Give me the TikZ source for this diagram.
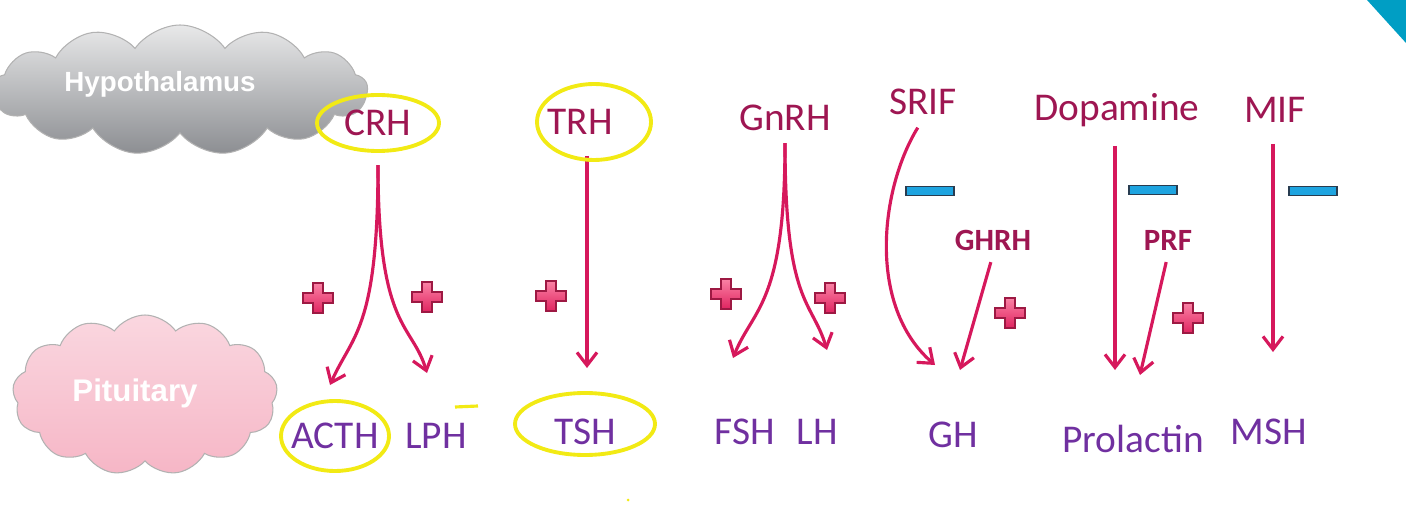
\documentclass[tikz,border=0pt]{standalone}
\usepackage{fontspec}
\setmainfont{Carlito}
\newfontfamily\cloudfont{Liberation Sans}
\usepackage{xcolor}
\usepackage{tikz}
\usetikzlibrary{
  arrows.meta,
  shapes.symbols
}
\definecolor{arrowred}{RGB}{214,24,92}
\definecolor{hormred}{RGB}{158,22,82}
\definecolor{hormpurple}{RGB}{112,48,160}
\definecolor{barblue}{RGB}{30,164,224}
\definecolor{barline}{RGB}{40,60,80}
\definecolor{markyellow}{RGB}{242,234,20}
\definecolor{plusred}{RGB}{224,36,96}
\definecolor{pluslight}{RGB}{250,130,165}
\definecolor{cornerteal}{RGB}{0,158,196}
\definecolor{cloudgray}{RGB}{140,142,146}
\definecolor{cloudpink}{RGB}{246,182,198}

\begin{document}
\begin{tikzpicture}[
  topl/.style    ={inner sep=1pt,text=hormred,font=\fontsize{11.2}{13}\selectfont},
  botl/.style    ={inner sep=1pt,text=hormpurple,font=\fontsize{11.2}{13}\selectfont},
  sublbl/.style  ={inner sep=1pt,text=hormred,font=\fontsize{8.8}{10}\selectfont\bfseries},
  cloudbox/.style={cloud,cloud puffs=13,cloud puff arc=110,aspect=2.6,
                   draw=white!70!black,line width=0.3pt},
  cloudtext/.style={text=white,font=\cloudfont\bfseries},
  arr/.style     ={-{Straight Barb[length=1.3mm,width=2mm]},line width=0.9pt,draw=arrowred},
  minusbar/.style={draw=barline,fill=barblue,line width=0.4pt,inner sep=0pt,
                   minimum width=0.48cm,minimum height=0.085cm},
  hl/.style      ={draw=markyellow,line width=1.1pt},
  plusmark/.pic  ={
    \draw[draw=plusred!70!black,line width=0.4pt,top color=pluslight,bottom color=plusred]
      (-0.05,0.15) -- (0.05,0.15) -- (0.05,0.05) -- (0.15,0.05) -- (0.15,-0.05)
      -- (0.05,-0.05) -- (0.05,-0.15) -- (-0.05,-0.15) -- (-0.05,-0.05)
      -- (-0.15,-0.05) -- (-0.15,0.05) -- (-0.05,0.05) -- cycle;
  },
]
\useasboundingbox (0,0) rectangle (14.06,5.05);
\fill[cornerteal] (13.67,5.05) -- (14.06,5.05) -- (14.06,4.62) -- cycle;

% clouds
\node[cloudbox,top color=white!80!cloudgray,bottom color=cloudgray,
      minimum width=3.75cm,minimum height=1.3cm] (hypocloud) at (1.80,4.15) {};
\node[cloudtext,font=\cloudfont\bfseries\fontsize{7.9}{9}\selectfont] (hypo) at (1.60,4.21) {Hypothalamus};
\node[cloudbox,top color=cloudpink!55!white,bottom color=cloudpink,
      minimum width=2.65cm,minimum height=1.6cm] (pitcloud) at (1.45,1.10) {};
\node[cloudtext,font=\cloudfont\bfseries\fontsize{8.9}{10}\selectfont] (pit) at (1.35,1.12) {Pituitary};

% releasing / inhibiting factors
\node[topl] (crh)  at (3.78,3.82)  {CRH};
\node[topl] (trh)  at (5.80,3.83)  {TRH};
\node[topl] (gnrh) at (7.85,3.87)  {GnRH};
\node[topl] (srif) at (9.23,4.03)  {SRIF};
\node[topl] (dopa) at (11.17,3.95) {Dopamine};
\node[topl] (mif)  at (12.75,3.95) {MIF};
\node[sublbl] (ghrh) at (9.93,2.65)  {GHRH};
\node[sublbl] (prf)  at (11.68,2.65) {PRF};

% pituitary hormones
\node[botl] (acth) at (3.35,0.69)  {ACTH};
\node[botl] (lph)  at (4.36,0.69)  {LPH};
\node[botl] (tsh)  at (5.85,0.73)  {TSH};
\node[botl] (fsh)  at (7.45,0.73)  {FSH};
\node[botl] (lh)   at (8.17,0.73)  {LH};
\node[botl] (gh)   at (9.53,0.70)  {GH};
\node[botl] (prl)  at (11.33,0.66) {Prolactin};
\node[botl] (msh)  at (12.69,0.73) {MSH};

% arrow tips
\coordinate (acthtip) at (3.30,1.20);
\coordinate (lphtip)  at (4.27,1.32);
\coordinate (tshtip)  at (5.87,1.37);
\coordinate (fshtip)  at (7.33,1.47);
\coordinate (lhtip)   at (8.27,1.55);
\coordinate (ghtipa)  at (9.35,1.40);
\coordinate (ghtipb)  at (9.60,1.35);
\coordinate (prltipa) at (11.15,1.35);
\coordinate (prltipb) at (11.40,1.30);
\coordinate (mshtip)  at (12.73,1.53);

\draw[arr,shorten <=0.25cm] (crh.south) .. controls +(0,-1.9) and +(0.22,0.5) .. (acthtip);
\draw[arr,shorten <=0.25cm] (crh.south) .. controls +(0,-1.9) and +(-0.15,0.5) .. (lphtip);
\draw[arr,shorten <=0.17cm] (trh.south -| tshtip) -- (tshtip);
\draw[arr,shorten <=0.08cm] (gnrh.south) .. controls +(0,-1.7) and +(0.2,0.5) .. (fshtip);
\draw[arr,shorten <=0.08cm] (gnrh.south) .. controls +(0,-1.7) and +(-0.15,0.5) .. (lhtip);
\draw[arr,shorten <=0.1cm] (srif.south) .. controls +(-0.43,-0.70) and +(-0.68,0.59) .. (ghtipa);
\draw[arr,shorten <=0.08cm] (ghrh.south) -- (ghtipb);
\draw[arr,shorten <=0.15cm] (dopa.south -| prltipa) -- (prltipa);
\draw[arr,shorten <=0.08cm] (prf.south) -- (prltipb);
\draw[arr,shorten <=0.17cm] (mif.south -| mshtip) -- (mshtip);

% inhibition bars
\node[minusbar] (minus1) at (9.30,3.14)  {};
\node[minusbar] (minus2) at (11.53,3.15) {};
\node[minusbar] (minus3) at (13.13,3.14) {};

% stimulation marks
\foreach \px/\py in {3.18/2.07,4.27/2.08,5.51/2.09,7.26/2.11,8.30/2.07,10.10/1.92,11.88/1.87}
  \pic at (\px,\py) {plusmark};

% yellow pen marks
\draw[hl] (crh) ellipse [x radius=0.61,y radius=0.28];
\draw[hl] ([xshift=0.14cm]trh) ellipse [x radius=0.57,y radius=0.38];
\draw[hl] (acth) ellipse [x radius=0.54,y radius=0.35];
\draw[hl] ([yshift=0.08cm]tsh) ellipse [x radius=0.70,y radius=0.31];
\draw[hl,line width=0.9pt] (4.55,0.98) -- (4.78,0.99);
\fill[markyellow] (6.28,0.05) circle (0.015);
\end{tikzpicture}
\end{document}
